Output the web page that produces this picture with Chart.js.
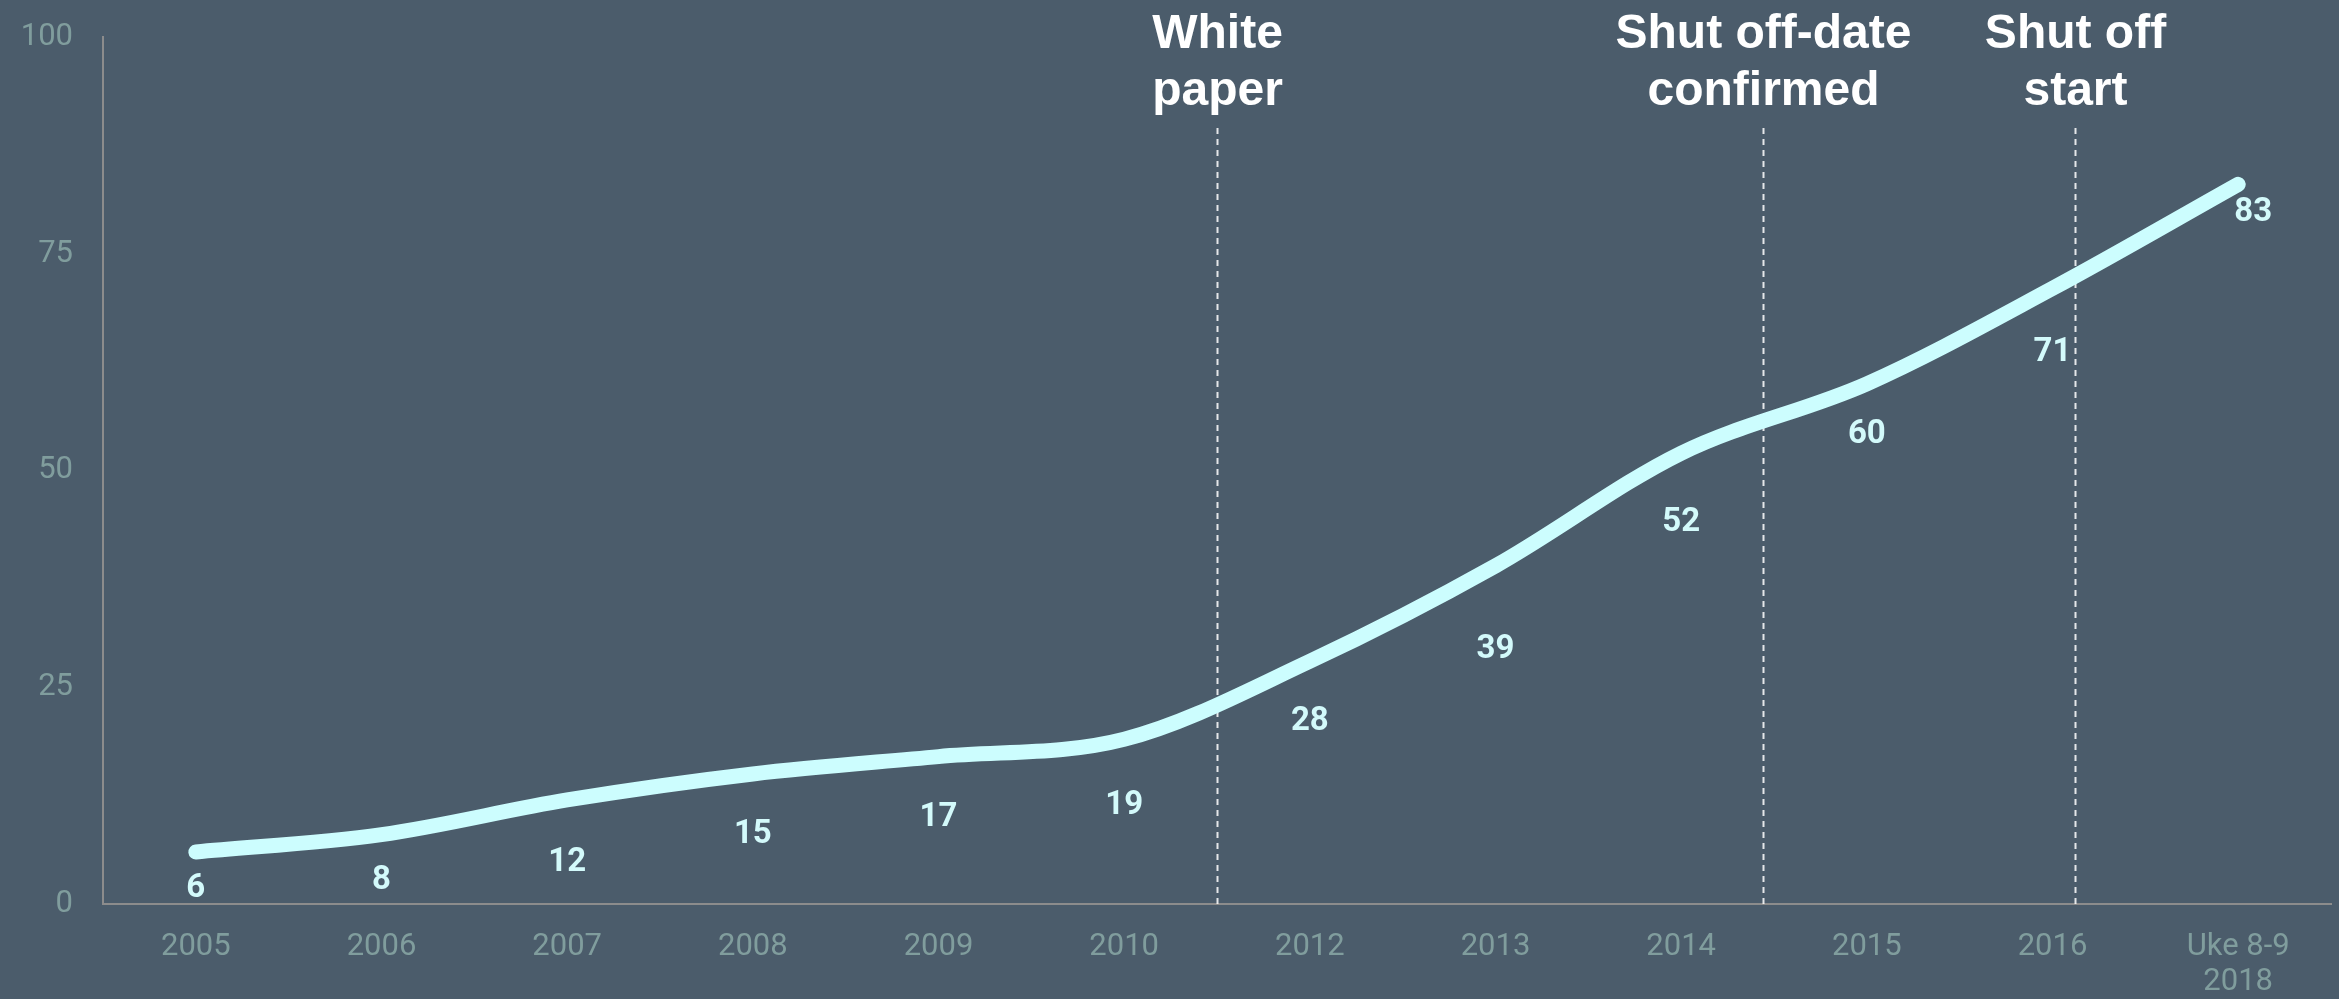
<!DOCTYPE html>
<html lang="en">
<head>
  <meta charset="UTF-8">
  <title>Growth chart</title>
  <script src="https://cdn.jsdelivr.net/npm/chart.js"></script>
  <style>
    body {
      margin: 0;
      background-color: #4b5c6b;
    }
    .chart-box {
      width: 2339px;
      height: 999px;
      position: relative;
    }
  </style>
</head>
<body>
  <div class="chart-box">
    <canvas id="growthChart"></canvas>
  </div>

  <script>
    const labels = ["2005", "2006", "2007", "2008", "2009", "2010", "2012", "2013", "2014", "2015", "2016", ["Uke 8-9", "2018"]];
    const values = [6, 8, 12, 15, 17, 19, 28, 39, 52, 60, 71, 83];
    const yTicks = [0, 25, 50, 75, 100];

    // events shown as dashed lines, position in category units
    const eventNames = [["White", "paper"], ["Shut off-date", "confirmed"], ["Shut off", "start"]];
    const eventPositions = [5.5, 8.44, 10.12];

    // how far below the line each value label sits (px)
    const labelDy = [37, 46, 63, 61, 61, 66, 61, 84, 70, 51, 64, 28];
    const labelDx = [0, 0, 0, 0, 0, 0, 0, 0, 0, 0, 0, 15];

    const lineColor = "#ccfdfe";
    const tickColor = "#809d9d";
    const axisColor = "#8c8c8c";

    const bgPlugin = {
      id: "bg",
      beforeDraw(chart) {
        const ctx = chart.ctx;
        ctx.save();
        ctx.fillStyle = "#4b5c6b";
        ctx.fillRect(0, 0, chart.width, chart.height);
        ctx.restore();
      }
    };

    const eventPlugin = {
      id: "events",
      beforeDatasetsDraw(chart) {
        const ctx = chart.ctx;
        const x = chart.scales.x;
        const area = chart.chartArea;
        ctx.save();
        eventPositions.forEach((pos, i) => {
          const px = Math.round(x.getPixelForValue(pos)) + 0.5;
          ctx.strokeStyle = "rgba(255,255,255,0.85)";
          ctx.lineWidth = 2;
          ctx.setLineDash([6, 5]);
          ctx.beginPath();
          ctx.moveTo(px, 128);
          ctx.lineTo(px, area.bottom);
          ctx.stroke();

          ctx.setLineDash([]);
          ctx.fillStyle = "#ffffff";
          ctx.font = "bold 48px 'Liberation Sans', Arial, sans-serif";
          ctx.textAlign = "center";
          ctx.textBaseline = "alphabetic";
          eventNames[i].forEach((line, j) => {
            ctx.fillText(line, px, 48 + j * 57);
          });
        });
        ctx.restore();
      }
    };

    const valueLabelPlugin = {
      id: "valueLabels",
      afterDatasetsDraw(chart) {
        const ctx = chart.ctx;
        const meta = chart.getDatasetMeta(0);
        ctx.save();
        ctx.fillStyle = "#d3fafb";
        ctx.font = "bold 33px Roboto, sans-serif";
        ctx.textAlign = "center";
        ctx.textBaseline = "middle";
        meta.data.forEach((pt, i) => {
          ctx.fillText(String(values[i]), pt.x + labelDx[i], pt.y + labelDy[i]);
        });
        ctx.restore();
      }
    };

    const ctx = document.getElementById("growthChart").getContext("2d");
    new Chart(ctx, {
      type: "line",
      data: {
        labels,
        datasets: [{
          data: values,
          borderColor: lineColor,
          backgroundColor: lineColor,
          borderWidth: 15,
          borderCapStyle: "round",
          borderJoinStyle: "round",
          pointRadius: 0,
          cubicInterpolationMode: "monotone",
          fill: false
        }]
      },
      options: {
        responsive: true,
        maintainAspectRatio: false,
        animation: false,
        events: [],
        layout: {
          padding: { top: 37, right: 8, left: 0, bottom: 0 }
        },
        plugins: {
          legend: { display: false },
          tooltip: { enabled: false }
        },
        scales: {
          x: {
            offset: true,
            grid: { display: false, drawTicks: false },
            border: { display: true, color: axisColor, width: 2 },
            ticks: {
              color: tickColor,
              font: { family: "Roboto", weight: 400, size: 31, lineHeight: 1.15 },
              padding: 25,
              maxRotation: 0,
              autoSkip: false
            },
            afterFit(scale) {
              scale.height = 95;
              scale.paddingLeft = 0;
              scale.paddingRight = 0;
            }
          },
          y: {
            min: 0,
            max: 100,
            grid: { display: false, drawTicks: false },
            border: { display: true, color: axisColor, width: 2 },
            afterBuildTicks(scale) {
              scale.ticks = yTicks.map(v => ({ value: v }));
            },
            ticks: {
              color: tickColor,
              font: { family: "Roboto", weight: 400, size: 31 },
              padding: 30
            },
            afterFit(scale) {
              scale.width = 103;
              scale.paddingTop = 0;
              scale.paddingBottom = 0;
            }
          }
        }
      },
      plugins: [bgPlugin, eventPlugin, valueLabelPlugin]
    });
  </script>
</body>
</html>
